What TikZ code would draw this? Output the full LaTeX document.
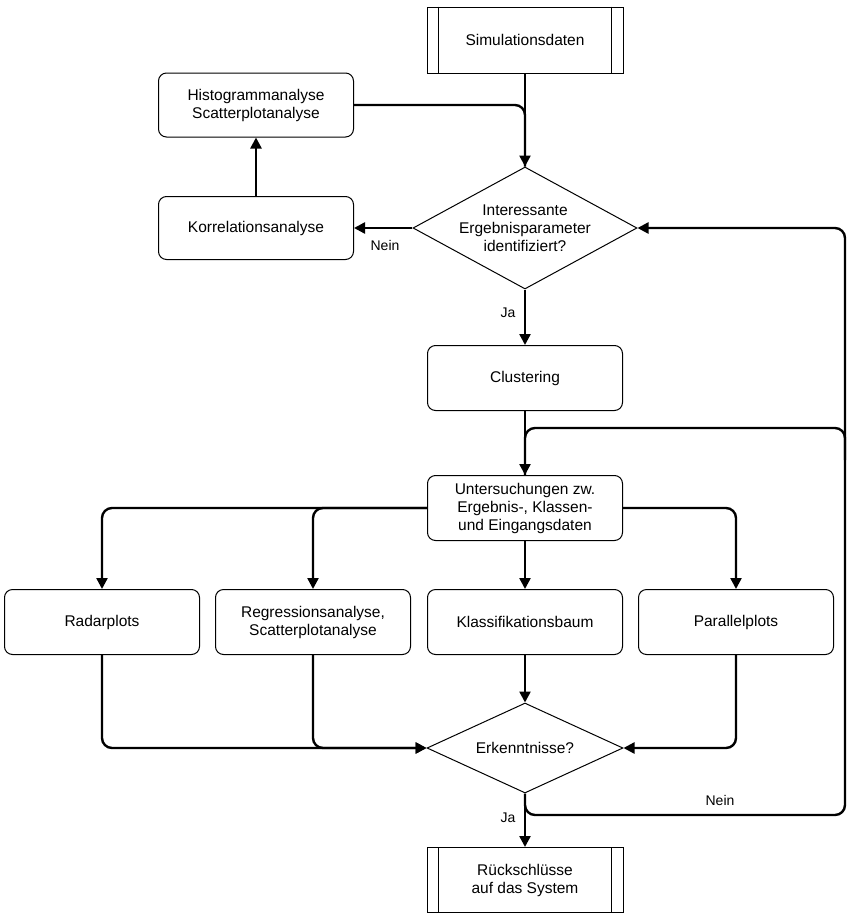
\documentclass[tikz,border=0pt]{standalone}
\usepackage{fontspec}
\setmainfont{Liberation Sans}
\usetikzlibrary{shapes.geometric,arrows.meta}
\begin{document}
\begin{tikzpicture}[x=1pt,y=-1pt,
  font=\fontsize{15.5}{18}\selectfont,
  box/.style={draw,line width=1pt,rounded corners=8pt,minimum width=195pt,minimum height=65pt,align=center},
  proc/.style={draw,line width=1pt,minimum width=196pt,minimum height=66pt,align=center},
  dia/.style={draw,line width=1pt,diamond,aspect=1.8,inner sep=0pt,align=center},
  con/.style={line width=2.4pt,rounded corners=10pt,-{Triangle[length=11pt,width=11pt]}},
  lin/.style={line width=2.4pt,rounded corners=10pt},
  lab/.style={font=\fontsize{14}{16}\selectfont}]
\useasboundingbox (0,0) rectangle (854,918);
\node[proc] (sim) at (525,40) {Simulationsdaten};
\draw[line width=1pt] ([xshift=12pt]sim.north west) -- ([xshift=12pt]sim.south west)
  ([xshift=-12pt]sim.north east) -- ([xshift=-12pt]sim.south east);
\node[box,minimum height=64pt] (hist) at (256,105) {Histogrammanalyse\\Scatterplotanalyse};
\node[box,minimum height=63pt] (kor) at (256,228) {Korrelationsanalyse};
\node[dia,minimum width=224pt,minimum height=122pt] (d1) at (525,228) {Interessante\\Ergebnisparameter\\identifiziert?};
\node[box] (clu) at (525,378) {Clustering};
\node[box] (unt) at (525,508) {Untersuchungen zw.\\Ergebnis-, Klassen-\\und Eingangsdaten};
\node[box] (rad) at (102,622) {Radarplots};
\node[box] (reg) at (313,622) {Regressionsanalyse,\\Scatterplotanalyse};
\node[box] (kla) at (525,622) {Klassifikationsbaum};
\node[box] (par) at (736,622) {Parallelplots};
\node[dia,minimum width=196pt,minimum height=90pt] (d2) at (525,748) {Erkenntnisse?};
\node[proc,minimum height=65pt] (rue) at (525,880) {Rückschlüsse\\auf das System};
\draw[line width=1pt] ([xshift=12pt]rue.north west) -- ([xshift=12pt]rue.south west)
  ([xshift=-12pt]rue.north east) -- ([xshift=-12pt]rue.south east);

\draw[con] (sim) -- (d1);
\draw[lin] (hist.east) -| (d1.north);
\draw[con] (d1) -- (kor);
\node[lab] (nein1) at (385,245) {Nein};
\draw[con] (kor) -- (hist);
\draw[con] (d1) -- (clu);
\node[lab] (ja1) at (508,313) {Ja};
\draw[con] (clu) -- (unt);
\draw[con] (unt.west) -| (rad.north);
\draw[con] (unt.west) -| (reg.north);
\draw[con] (unt.east) -| (par.north);
\draw[con] (unt) -- (kla);
\draw[con] (rad.south) |- (d2.west);
\draw[con] (reg.south) |- (d2.west);
\draw[con] (kla) -- (d2);
\draw[con] (par.south) |- (d2.east);
\draw[con] (d2) -- (rue);
\node[lab] (ja2) at (508,818) {Ja};
\coordinate (lp) at (845,815);
\draw[con] (d2.south) |- (lp) |- (d1.east);
\draw[lin] (845,460) |- (525,428) -- (unt.north);
\node[lab] (nein2) at (720,800) {Nein};
\end{tikzpicture}
\end{document}
